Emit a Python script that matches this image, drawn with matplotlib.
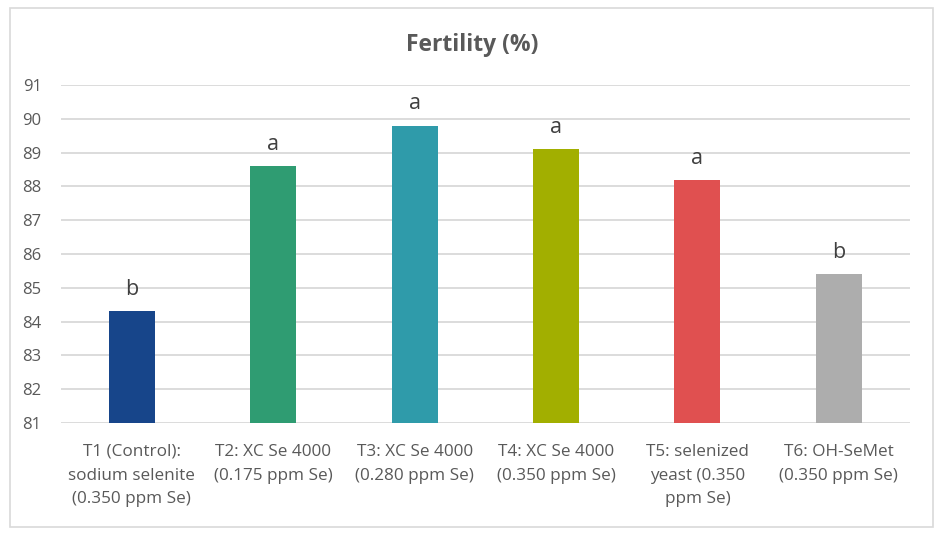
import matplotlib.pyplot as plt
from matplotlib.patches import Rectangle

plt.rcParams['font.family'] = ['Open Sans', 'DejaVu Sans']

# Datos
categories = [
    "T1 (Control):\nsodium selenite\n(0.350 ppm Se)",
    "T2: XC Se 4000\n(0.175 ppm Se)",
    "T3: XC Se 4000\n(0.280 ppm Se)",
    "T4: XC Se 4000\n(0.350 ppm Se)",
    "T5: selenized\nyeast (0.350\nppm Se)",
    "T6: OH-SeMet\n(0.350 ppm Se)",
]
fertility = [84.3, 88.6, 89.8, 89.1, 88.2, 85.4]
letters = ['b', 'a', 'a', 'a', 'a', 'b']
colors = ['#17458A', '#2F9C72', '#2F9BAA', '#A2AF00', '#E05050', '#ADADAD']
yticks = list(range(81, 92))

fig = plt.figure(figsize=(9.44, 5.37), dpi=100)
ax = fig.add_axes([0.0646, 0.2123, 0.899, 0.6294])

x = range(len(categories))
bars = ax.bar(x, [v - 81 for v in fertility], bottom=81, width=0.325,
              color=colors, zorder=3)

for bar, lab, v in zip(bars, letters, fertility):
    ax.annotate(lab, (bar.get_x() + bar.get_width() / 2, v),
                xytext=(0, 8), textcoords='offset points',
                ha='center', va='bottom', fontsize=15.5, color='#404040')

ax.set_ylim(81, 91)
ax.set_xlim(-0.5, len(categories) - 0.5)
ax.set_yticks(yticks)
ax.set_xticks(list(x))
ax.set_xticklabels(categories, fontsize=12.3, color='#595959', linespacing=1.65)
ax.tick_params(axis='y', labelsize=12, colors='#595959', length=0, pad=14)
ax.tick_params(axis='x', length=0, pad=15)
ax.grid(axis='y', color='#d9d9d9', linewidth=1.3, zorder=0)
ax.grid(axis='x', visible=False)
for s in ax.spines.values():
    s.set_visible(False)

fig.text(0.5, 0.916, 'Fertility (%)', ha='center', va='center',
         fontsize=16.5, fontweight='bold', color='#595959')

# Marco del grafico
fig.patches.append(Rectangle((10 / 944, 1 - 527 / 537), 923 / 944, 519 / 537,
                             transform=fig.transFigure, fill=False,
                             edgecolor='#d9d9d9', linewidth=1.2))

fig.savefig('out.png', dpi=100)
